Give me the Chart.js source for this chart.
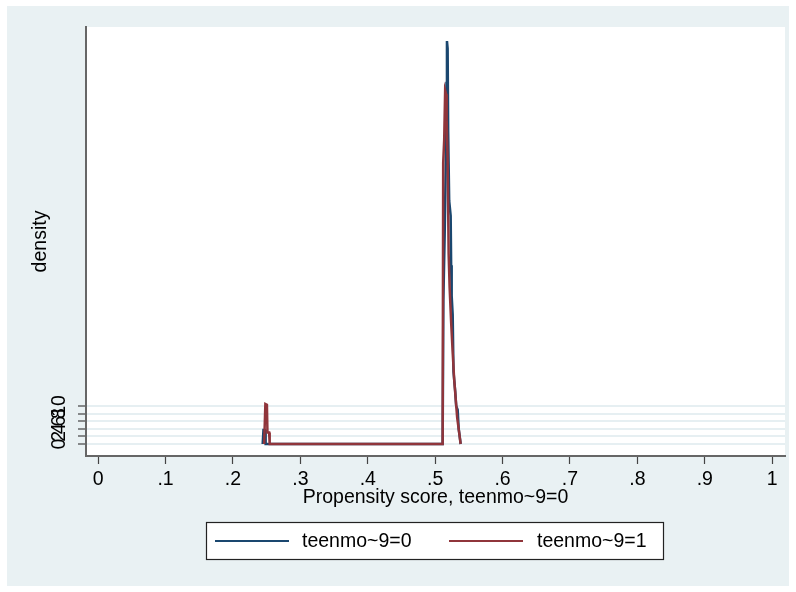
<!DOCTYPE html>
<html><head><meta charset="utf-8">
<script src="https://cdn.jsdelivr.net/npm/chart.js@4.4.0/dist/chart.umd.min.js"></script>
<style>html,body{margin:0;padding:0;background:#fff}canvas{display:block}</style>
</head><body><canvas id="c" width="796" height="592"></canvas>
<script>
// ---- data ----
const seriesNames = ['teenmo~9=0', 'teenmo~9=1'];
const seriesColors = ['#1a476f', '#90353b'];
const blueX = [0.2441, 0.2453, 0.2478, 0.2485, 0.5111, 0.5122, 0.5141, 0.5156, 0.5168, 0.5175, 0.5185, 0.5193, 0.5208, 0.5230, 0.5237, 0.5245, 0.5260, 0.5272, 0.5297, 0.5312, 0.5334, 0.5349, 0.5364, 0.5378];
const blueY = [0, 3.7, 3.7, 0, 0, 38, 55, 72, 95, 106, 104, 82, 64, 60, 47, 39, 34, 19, 14, 10, 9, 4, 2, 0];
const redX = [0.2463, 0.2481, 0.2504, 0.2512, 0.2537, 0.2545, 0.5111, 0.5119, 0.5134, 0.5148, 0.5163, 0.5171, 0.5185, 0.5200, 0.5215, 0.5237, 0.5260, 0.5282, 0.5304, 0.5326, 0.5356, 0.5378];
const redY = [0, 10.5, 10.3, 3, 3, 0, 0, 74, 80, 93, 92, 85, 75, 50, 41, 32, 24, 17, 12, 7, 3, 0];
const xTickValues = [0, 0.1, 0.2, 0.3, 0.4, 0.5, 0.6, 0.7, 0.8, 0.9, 1];
const xTickLabels = ['0', '.1', '.2', '.3', '.4', '.5', '.6', '.7', '.8', '.9', '1'];
const yTickValues = [0, 2, 4, 6, 8, 10];
const yTickLabels = ['0', '2', '4', '6', '8', '10'];
const xTitle = 'Propensity score, teenmo~9=0';
const yTitle = 'density';

// ---- styling ----
const FONT = '"Liberation Sans", Arial, sans-serif';
const FS = 19.5;
const font = { family: FONT, size: FS };

const bgPlugin = {
  id: 'bg',
  beforeDraw(chart) {
    const { ctx, chartArea: a } = chart;
    ctx.save();
    ctx.fillStyle = '#ffffff';
    ctx.fillRect(0, 0, chart.width, chart.height);
    ctx.fillStyle = '#e9f1f3';
    ctx.fillRect(7, 6, chart.width - 14, chart.height - 12);
    ctx.fillStyle = '#ffffff';
    ctx.fillRect(a.left, a.top, a.right - a.left, a.bottom - a.top);
    ctx.restore();
  }
};

const yLabelPlugin = {
  id: 'ylabels',
  afterDraw(chart) {
    const { ctx } = chart;
    const ys = chart.scales.y;
    ctx.save();
    ctx.font = FS + 'px ' + FONT;
    ctx.fillStyle = '#000';
    ctx.textAlign = 'center';
    ctx.textBaseline = 'middle';
    yTickValues.forEach((v, i) => {
      ctx.save();
      ctx.translate(60, ys.getPixelForValue(v));
      ctx.rotate(-Math.PI / 2);
      ctx.fillText(yTickLabels[i], 0, 0);
      ctx.restore();
    });
    ctx.restore();
  }
};

const legendPlugin = {
  id: 'boxlegend',
  afterDraw(chart) {
    const { ctx } = chart;
    ctx.save();
    ctx.fillStyle = '#ffffff';
    ctx.fillRect(206.5, 522.5, 457, 37);
    ctx.strokeStyle = '#222';
    ctx.lineWidth = 1.2;
    ctx.strokeRect(206.5, 522.5, 457, 37);
    const items = [[215, 302], [449, 537]];
    ctx.font = FS + 'px ' + FONT;
    ctx.textBaseline = 'middle';
    ctx.textAlign = 'left';
    items.forEach((it, i) => {
      ctx.strokeStyle = seriesColors[i];
      ctx.lineWidth = 2.2;
      ctx.beginPath();
      ctx.moveTo(it[0], 541);
      ctx.lineTo(it[0] + 74, 541);
      ctx.stroke();
      ctx.fillStyle = '#000';
      ctx.fillText(seriesNames[i], it[1], 541.5);
    });
    ctx.restore();
  }
};

const toPts = (xs, ys) => xs.map((x, i) => ({ x: x, y: ys[i] }));

new Chart(document.getElementById('c'), {
  type: 'line',
  data: {
    datasets: [
      { label: seriesNames[0], data: toPts(blueX, blueY), borderColor: seriesColors[0], borderWidth: 2.5, pointRadius: 0, tension: 0, fill: false, order: 1 },
      { label: seriesNames[1], data: toPts(redX, redY), borderColor: seriesColors[1], borderWidth: 2.5, pointRadius: 0, tension: 0, fill: false, order: 0 }
    ]
  },
  options: {
    responsive: false,
    animation: false,
    devicePixelRatio: 1,
    layout: { padding: { left: 0, right: 11, top: 27, bottom: 82 } },
    plugins: { legend: { display: false }, tooltip: { enabled: false } },
    scales: {
      x: {
        type: 'linear', min: -0.018, max: 1.019,
        afterBuildTicks: s => { s.ticks = xTickValues.map(v => ({ value: v })); },
        afterFit: s => { s.height = 54; },
        ticks: {
          font: font, color: '#000', padding: 4, maxRotation: 0, minRotation: 0, autoSkip: false,
          callback: v => { const i = xTickValues.findIndex(t => Math.abs(t - v) < 1e-9); return i >= 0 ? xTickLabels[i] : ''; }
        },
        grid: { drawOnChartArea: false, drawTicks: true, tickLength: 8, tickColor: '#444', tickWidth: 1.2 },
        border: { color: '#666', width: 2 },
        title: { display: true, text: xTitle, font: font, color: '#000', padding: { top: 0, bottom: 1 } }
      },
      y: {
        type: 'linear', min: -3.16, max: 109.7,
        afterBuildTicks: s => { s.ticks = yTickValues.map(v => ({ value: v })); },
        afterFit: s => { s.width = 86; },
        ticks: { display: false },
        grid: { color: '#e6eff2', lineWidth: 2, drawTicks: true, tickLength: 8, tickColor: '#444', tickWidth: 1.2 },
        border: { color: '#666', width: 2 },
        title: { display: true, text: yTitle, font: font, color: '#000', padding: { top: 29, bottom: 0 } }
      }
    }
  },
  plugins: [bgPlugin, yLabelPlugin, legendPlugin]
});
</script>
</body></html>
